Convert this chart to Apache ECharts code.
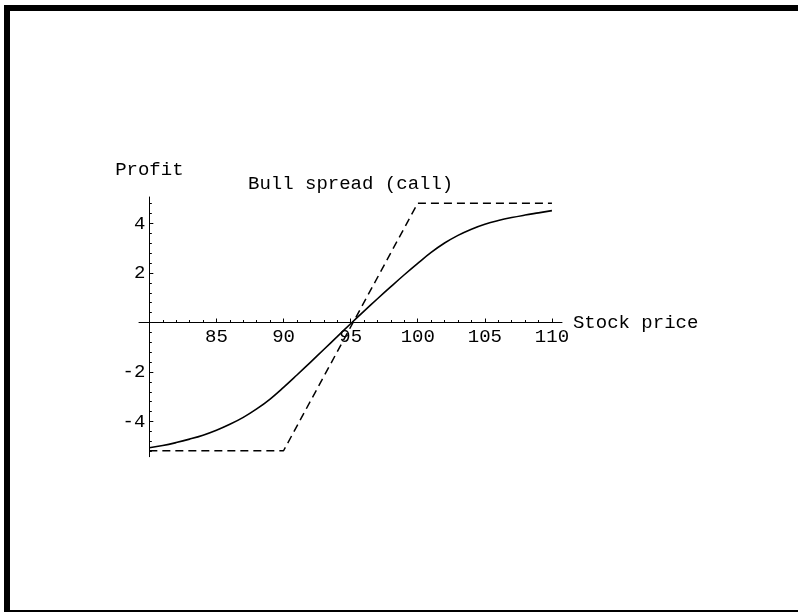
<!DOCTYPE html>
<html>
<head>
<meta charset="utf-8">
<script src="https://cdn.jsdelivr.net/npm/echarts@6/dist/echarts.min.js"></script>
<style>
  html, body { margin: 0; padding: 0; background: #fff; }
  #chart { width: 798px; height: 612px; }
</style>
</head>
<body>
<div id="chart"></div>
<script>
// Stock prices along the x axis
const stockPrices = [80, 81, 82, 83, 84, 85, 86, 87, 88, 89, 90, 91, 92, 93, 94, 95,
                     96, 97, 98, 99, 100, 101, 102, 103, 104, 105, 106, 107, 108, 109, 110];
// Profit of the spread before expiry (solid curve)
const profitBefore = [-5.06, -4.97, -4.85, -4.71, -4.55, -4.35, -4.11, -3.83, -3.49, -3.09, -2.62,
                      -2.12, -1.61, -1.09, -0.57, -0.05, 0.46, 0.96, 1.45, 1.93, 2.39,
                      2.83, 3.21, 3.52, 3.77, 3.97, 4.12, 4.24, 4.34, 4.43, 4.52];
// Profit at expiry (dashed), kinks at the two strikes
const expiryPrices = [80, 90, 100, 110];
const profitExpiry = [-5.18, -5.18, 4.82, 4.82];

// Tick marks and labels
const xMajorTicks = [85, 90, 95, 100, 105, 110];
const xMinorTicks = [81, 82, 83, 84, 86, 87, 88, 89, 91, 92, 93, 94, 96, 97, 98, 99,
                     101, 102, 103, 104, 106, 107, 108, 109];
const yMajorTicks = [-4, -2, 2, 4];
const yMinorTicks = [-5.2, -4.8, -4.4, -3.6, -3.2, -2.8, -2.4, -1.6, -1.2, -0.8, -0.4,
                     0.4, 0.8, 1.2, 1.6, 2.4, 2.8, 3.2, 3.6, 4.4, 4.8];

const FONT = '"Liberation Mono", "DejaVu Sans Mono", monospace';
const FS = 19;

const toPairs = (xs, ys) => xs.map((x, i) => [x, ys[i]]);

const X_MIN = 79.23, X_MAX = 110.75;
const Y_MIN = -5.42, Y_MAX = 5.07;

// plot box in pixels
const GRID = { left: 139, right: 236, top: 197, bottom: 155.3 };
const PLOT_H = 612 - GRID.top - GRID.bottom;
// move the x axis up so that it crosses the y axis at profit 0
const X_AXIS_SHIFT = -PLOT_H * (0 - Y_MIN) / (Y_MAX - Y_MIN);
// move the y axis right so that it sits at stock price 80
const PLOT_W = 798 - GRID.left - GRID.right;
const Y_AXIS_SHIFT = -PLOT_W * (80 - X_MIN) / (X_MAX - X_MIN);

const chart = echarts.init(document.getElementById('chart'), null, { renderer: 'canvas' });

const baseX = {
  type: 'value', min: X_MIN, max: X_MAX, position: 'bottom', offset: X_AXIS_SHIFT,
  splitLine: { show: false }
};
const baseY = {
  type: 'value', min: Y_MIN, max: Y_MAX, position: 'left', offset: Y_AXIS_SHIFT,
  splitLine: { show: false }
};

chart.setOption({
  animation: false,
  backgroundColor: '#fff',
  title: {
    text: 'Bull spread (call)',
    left: 243, top: 169,
    textStyle: { fontFamily: FONT, fontSize: FS, fontWeight: 'normal', color: '#000' }
  },
  grid: Object.assign({ containLabel: false }, GRID),
  xAxis: [
    Object.assign({}, baseX, {
      name: 'Stock price',
      nameLocation: 'end',
      nameGap: 9,
      nameTextStyle: { fontFamily: FONT, fontSize: FS, color: '#000', verticalAlign: 'middle' },
      axisLine: { show: true, onZero: false, lineStyle: { color: '#000', width: 1 } },
      axisTick: { show: true, inside: true, length: 4, customValues: xMajorTicks,
                  lineStyle: { color: '#000', width: 1 } },
      axisLabel: { show: true, customValues: xMajorTicks, margin: 5,
                   fontFamily: FONT, fontSize: FS, color: '#000',
                   formatter: v => String(Math.round(v)) }
    }),
    Object.assign({}, baseX, {
      axisLine: { show: false, onZero: false },
      axisTick: { show: true, inside: true, length: 2.5, customValues: xMinorTicks,
                  lineStyle: { color: '#000', width: 1 } },
      axisLabel: { show: false }
    })
  ],
  yAxis: [
    Object.assign({}, baseY, {
      name: 'Profit',
      nameLocation: 'end',
      nameGap: 18,
      nameTextStyle: { fontFamily: FONT, fontSize: FS, color: '#000' },
      axisLine: { show: true, onZero: false, lineStyle: { color: '#000', width: 1 } },
      axisTick: { show: true, inside: true, length: 4, customValues: yMajorTicks,
                  lineStyle: { color: '#000', width: 1 } },
      axisLabel: { show: true, customValues: yMajorTicks, margin: 4,
                   fontFamily: FONT, fontSize: FS, color: '#000',
                   formatter: v => String(Math.round(v)) }
    }),
    Object.assign({}, baseY, {
      axisLine: { show: false, onZero: false },
      axisTick: { show: true, inside: true, length: 2.5, customValues: yMinorTicks,
                  lineStyle: { color: '#000', width: 1 } },
      axisLabel: { show: false }
    })
  ],
  series: [
    {
      type: 'line',
      data: toPairs(expiryPrices, profitExpiry),
      showSymbol: false,
      lineStyle: { color: '#000', width: 1.5, type: [8, 5] },
      z: 3
    },
    {
      type: 'line',
      data: toPairs(stockPrices, profitBefore),
      smooth: 0.4,
      showSymbol: false,
      lineStyle: { color: '#000', width: 1.6 },
      z: 4
    }
  ],
  graphic: [
    // frame around the plot
    { type: 'rect', shape: { x: 4, y: 5, width: 794, height: 6 }, style: { fill: '#000' }, silent: true },
    { type: 'rect', shape: { x: 4, y: 5, width: 6, height: 607 }, style: { fill: '#000' }, silent: true },
    { type: 'rect', shape: { x: 4, y: 610, width: 794, height: 2 }, style: { fill: '#000' }, silent: true }
  ]
});
</script>
</body>
</html>
